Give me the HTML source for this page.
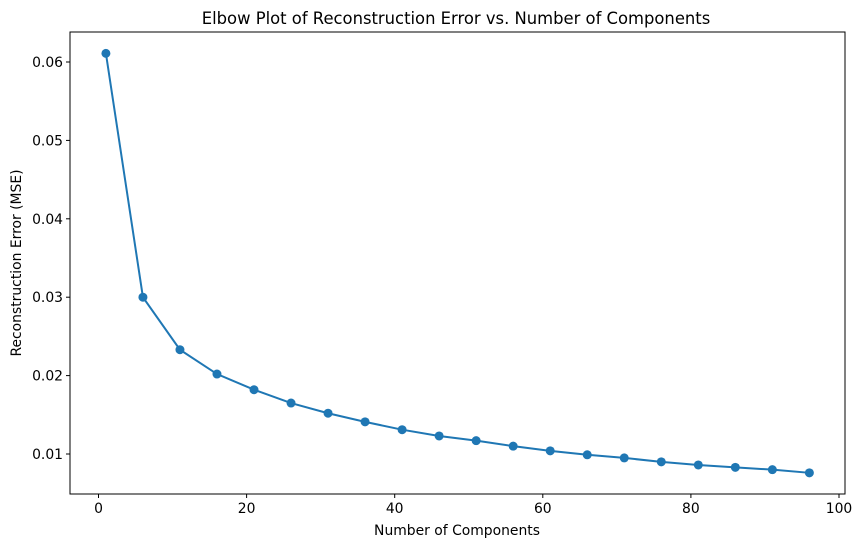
<!DOCTYPE html>
<html><head><meta charset="utf-8"><style>
body{margin:0;background:#fff;}
svg text{font-family:"DejaVu Sans","Liberation Sans",sans-serif;fill:#000;}
</style></head><body>
<svg id="chart" width="862" height="547" viewBox="0 0 862 547" xmlns="http://www.w3.org/2000/svg">
<text x="456" y="24" font-size="16.4" text-anchor="middle">Elbow Plot of Reconstruction Error vs. Number of Components</text>
<g id="axes"></g>
<text x="457" y="535" font-size="13.9" text-anchor="middle">Number of Components</text>
<text transform="translate(21,263) rotate(-90)" font-size="13.9" text-anchor="middle">Reconstruction Error (MSE)</text>
</svg>
<script>
const components=[1,6,11,16,21,26,31,36,41,46,51,56,61,66,71,76,81,86,91,96];
const mse=[0.0611,0.0300,0.0233,0.0202,0.0182,0.0165,0.0152,0.0141,0.0131,0.0123,0.0117,0.0110,0.0104,0.0099,0.0095,0.0090,0.0086,0.0083,0.0080,0.0076];
const xTicks=[0,20,40,60,80,100];
const yTicks=[0.01,0.02,0.03,0.04,0.05,0.06];
const yTickLabels=["0.01","0.02","0.03","0.04","0.05","0.06"];
const NS="http://www.w3.org/2000/svg";
const L=70,R=845,T=32,B=494;
const xs=v=>98.5+(v-0)*7.405;
const ys=v=>454-(v-0.01)*7840;
const g=document.getElementById('axes');
function mk(tag,attrs){const e=document.createElementNS(NS,tag);for(const k in attrs)e.setAttribute(k,attrs[k]);g.appendChild(e);return e;}
const frame=mk('rect',{x:L,y:T,width:R-L,height:B-T,fill:'none',stroke:'#000','stroke-width':1});


xTicks.forEach(t=>{
  const tk=mk('line',{x1:xs(t),x2:xs(t),y1:B,y2:B+4,stroke:'#000'});
  
  
  const tx=mk('text',{x:xs(t),y:B+19,'font-size':13.9,'text-anchor':'middle'});tx.textContent=t;
  
  
});
yTicks.forEach((t,i)=>{
  const tk=mk('line',{x1:L-4,x2:L,y1:ys(t),y2:ys(t),stroke:'#000'});
  
  
  const tx=mk('text',{x:L-7,y:ys(t)+5,'font-size':13.9,'text-anchor':'end'});tx.textContent=yTickLabels[i];
  
  
});
const pl=mk('polyline',{points:components.map((c,i)=>xs(c)+','+ys(mse[i])).join(' '),fill:'none',stroke:'#1f77b4','stroke-width':2});


components.forEach((c,i)=>{
  const p=mk('circle',{cx:xs(c),cy:ys(mse[i]),r:4.5,fill:'#1f77b4'});
  
  
});
</script>
</body></html>
